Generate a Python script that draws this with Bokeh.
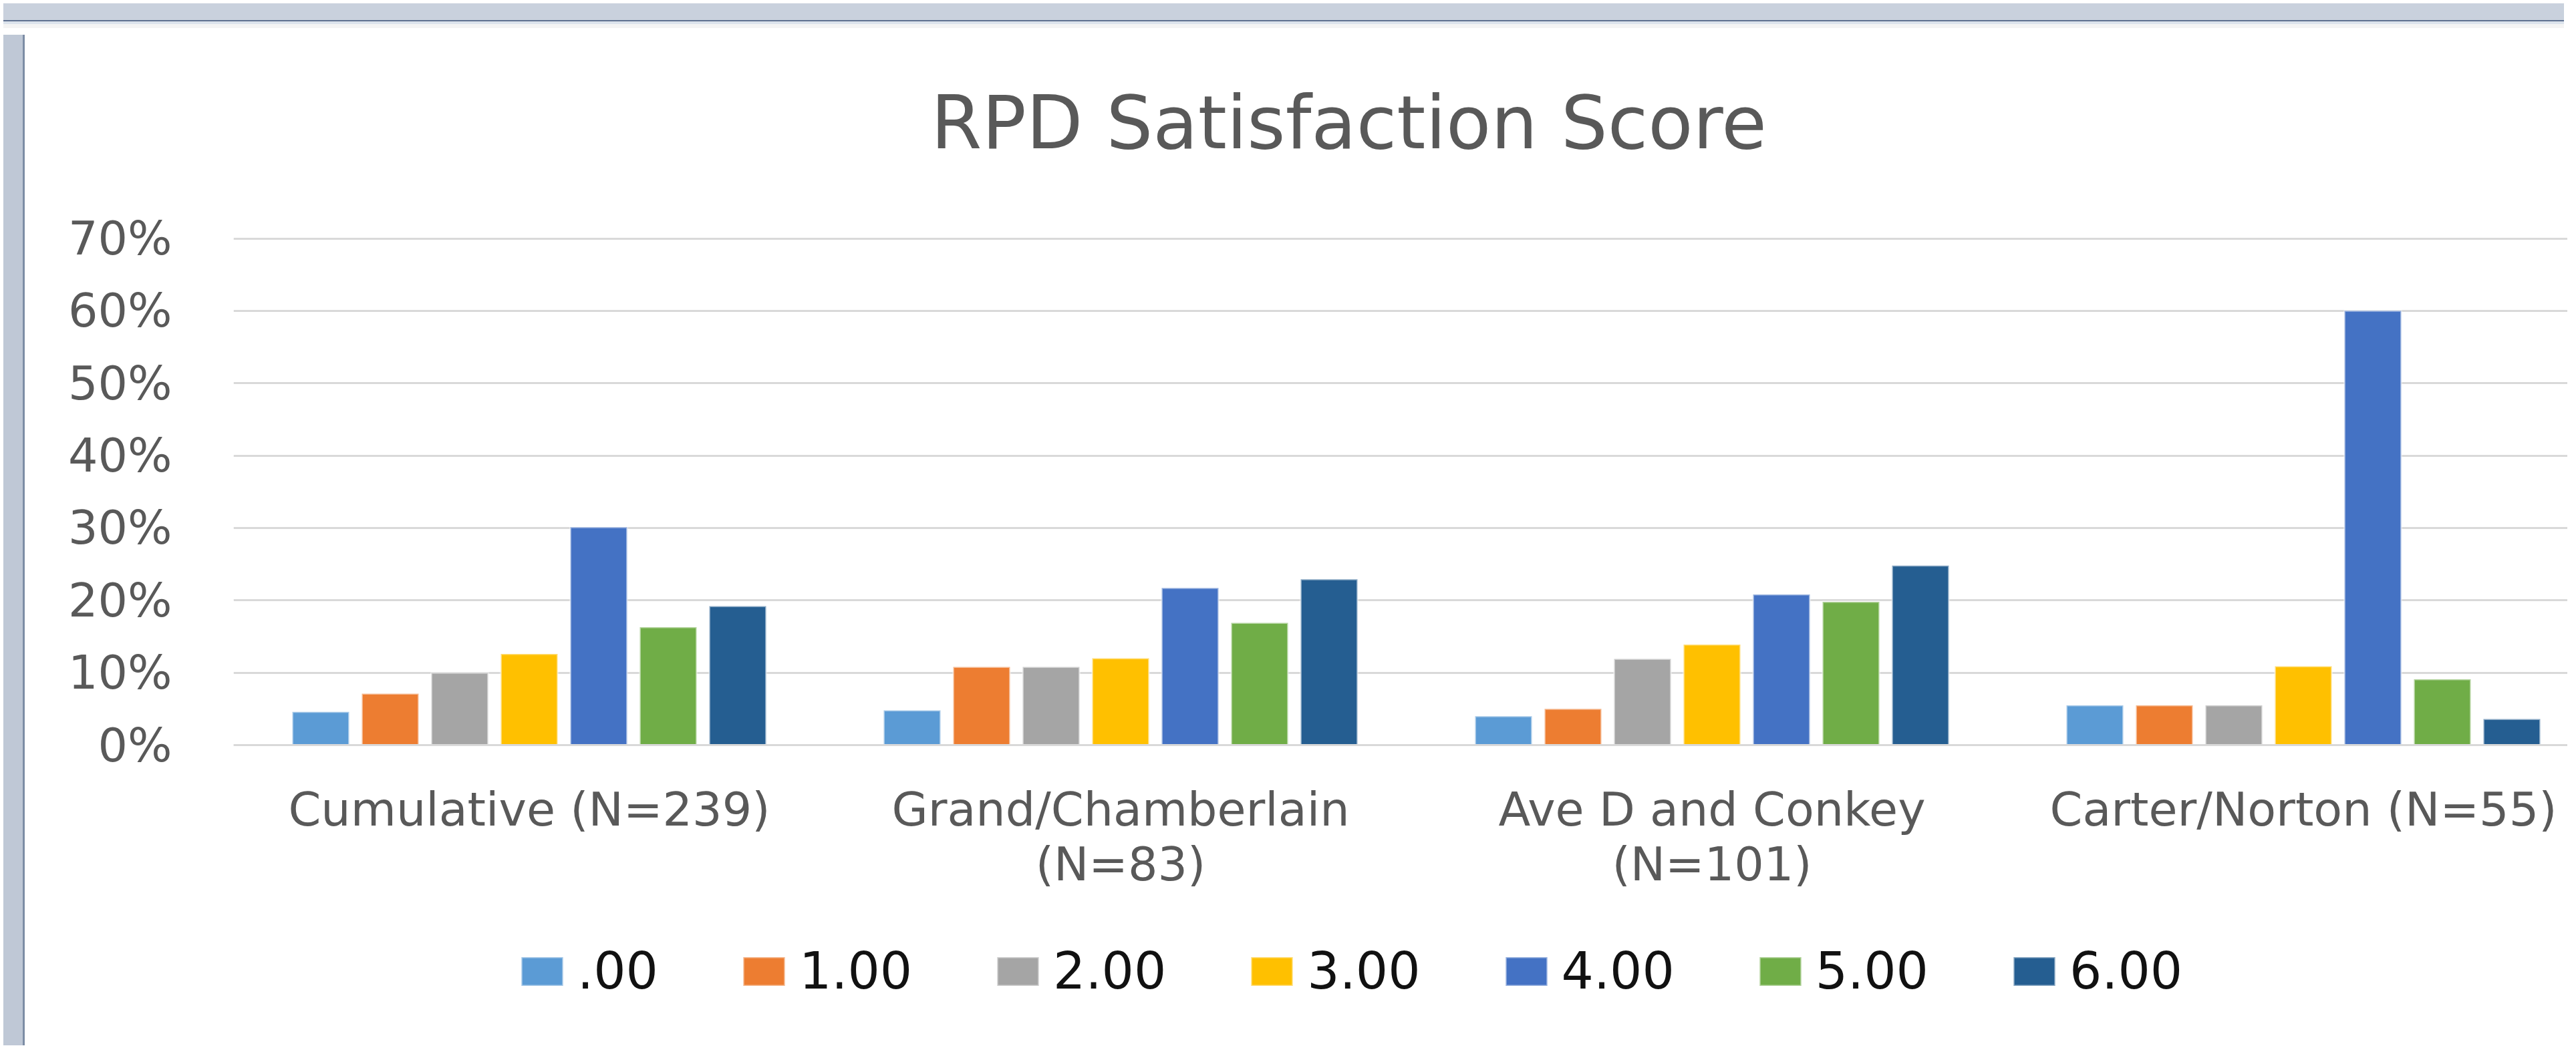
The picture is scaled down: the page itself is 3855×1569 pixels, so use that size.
from bokeh.plotting import figure
from bokeh.models import (ColumnDataSource, Range1d, FixedTicker, NumeralTickFormatter,
                          Legend, LegendItem, Label, Div)
from bokeh.layouts import column, row
from bokeh.transform import dodge
from bokeh.embed import file_html
from bokeh.resources import INLINE

# ---------------- data ----------------
title_text = "RPD Satisfaction Score"
categories = ["Cumulative (N=239)", "Grand/Chamberlain (N=83)",
              "Ave D and Conkey (N=101)", "Carter/Norton (N=55)"]
category_labels = ["Cumulative (N=239)", "Grand/Chamberlain\n(N=83)",
                   "Ave D and Conkey\n(N=101)", "Carter/Norton (N=55)"]
series_names = [".00", "1.00", "2.00", "3.00", "4.00", "5.00", "6.00"]
score_00 = [0.046, 0.048, 0.040, 0.055]
score_10 = [0.071, 0.108, 0.050, 0.055]
score_20 = [0.100, 0.108, 0.119, 0.055]
score_30 = [0.126, 0.120, 0.139, 0.109]
score_40 = [0.301, 0.217, 0.208, 0.600]
score_50 = [0.163, 0.169, 0.198, 0.091]
score_60 = [0.192, 0.229, 0.248, 0.036]
y_ticks = [0.0, 0.1, 0.2, 0.3, 0.4, 0.5, 0.6, 0.7]
colors = ["#5B9BD5", "#ED7D31", "#A5A5A5", "#FFC000", "#4472C4", "#70AD47", "#255E91"]

series = [score_00, score_10, score_20, score_30, score_40, score_50, score_60]

# ---------------- layout constants ----------------
TOTAL_W, TOTAL_H = 3832, 1550
TOP_BAR_H, LEFT_BAR_W = 37, 32
W, H = TOTAL_W - LEFT_BAR_W, TOTAL_H - TOP_BAR_H
FRAME_L = 307
ZERO_Y = 1068          # pixel row of 0%
TOP_LINE_Y = 309.5     # pixel row of the 70% gridline
TITLE_X, TITLE_BASE_Y = 1976, 136
PX_PER_CAT = 885.0
BAR_PITCH = 104.0 / PX_PER_CAT
BAR_W = 85.0 / PX_PER_CAT
FONT = "DejaVu Sans"
y_max = y_ticks[-1]
px_per_y = (ZERO_Y - TOP_LINE_Y) / y_max
y_start = -(H - ZERO_Y) / px_per_y
y_end = ZERO_Y / px_per_y
x_end = -0.5 + (W - FRAME_L) / PX_PER_CAT

data = {"x": list(range(len(categories)))}
for i, s in enumerate(series):
    data[f"s{i}"] = s
src = ColumnDataSource(data)

p = figure(width=W, height=H, output_backend="svg", toolbar_location=None,
           x_range=Range1d(-0.5, x_end), y_range=Range1d(y_start, y_end),
           min_border_left=FRAME_L, min_border_top=0, min_border_right=0,
           min_border_bottom=0)
p.title = None
p.outline_line_color = None
p.background_fill_color = "white"
p.border_fill_color = "white"

# bars
items = []
n = len(series)
for i in range(n):
    r = p.vbar(x=dodge("x", (i - (n - 1) / 2) * BAR_PITCH, range=p.x_range),
               top=f"s{i}", width=BAR_W, bottom=0, source=src,
               fill_color=colors[i], line_color="white", line_alpha=0.45, line_width=3)
    items.append(LegendItem(label=series_names[i], renderers=[r]))

# axes
p.xaxis.fixed_location = 0
p.xaxis.ticker = FixedTicker(ticks=list(range(len(categories))))
p.xaxis.major_label_overrides = {i: lab for i, lab in enumerate(category_labels)}
p.xaxis.major_label_text_font = FONT
p.xaxis.major_label_text_font_size = "70px"
p.xaxis.major_label_text_color = "#595959"
p.xaxis.major_label_text_line_height = 1.0
p.xaxis.major_label_standoff = 55
p.xaxis.major_tick_out = 0
p.xaxis.major_tick_in = 0
p.xaxis.minor_tick_out = 0
p.xaxis.minor_tick_in = 0
p.xaxis.axis_line_color = "#D9D9D9"
p.xaxis.axis_line_width = 3

p.yaxis.ticker = FixedTicker(ticks=y_ticks)
p.yaxis.formatter = NumeralTickFormatter(format="0%")
p.yaxis.major_label_text_font = FONT
p.yaxis.major_label_text_font_size = "70px"
p.yaxis.major_label_text_color = "#595959"
p.yaxis.major_label_standoff = 92
p.yaxis.major_tick_out = 0
p.yaxis.major_tick_in = 0
p.yaxis.minor_tick_out = 0
p.yaxis.minor_tick_in = 0
p.yaxis.axis_line_color = None

p.xgrid.grid_line_color = None
p.ygrid.ticker = FixedTicker(ticks=y_ticks)
p.ygrid.grid_line_color = "#D9D9D9"
p.ygrid.grid_line_width = 3

# legend (below the category labels)
legend = Legend(items=items, orientation="horizontal", location=(423, 62))
legend.label_text_font = FONT
legend.label_text_font_size = "76px"
legend.label_text_color = "#111111"
legend.glyph_width = 78
legend.glyph_height = 54
legend.label_standoff = 14
legend.spacing = 119
legend.padding = 0
legend.margin = 0
legend.border_line_color = None
legend.background_fill_alpha = 0
p.add_layout(legend)

# title
title = Label(x=-0.5 + (TITLE_X - FRAME_L) / PX_PER_CAT,
              y=(ZERO_Y - TITLE_BASE_Y) / px_per_y,
              text=title_text, text_font=FONT, text_font_size="110px",
              text_color="#595959", text_align="center", text_baseline="alphabetic")
p.add_layout(title)

# window chrome of the original screenshot
top_bar = Div(width=TOTAL_W, height=TOP_BAR_H,
              styles={"background": "linear-gradient(#C9D1DD 0px 25px, #5F7190 25px 27px, "
                                    "#DCE3EC 27px 31px, #F4F4F4 31px 37px)"})
left_bar = Div(width=LEFT_BAR_W, height=H,
               styles={"background": "linear-gradient(to right, #BFC8D6 0px 29px, "
                                     "#7D8DA5 29px 32px)"})
layout = column(top_bar, row(left_bar, p, spacing=0), spacing=0)

open("out.html", "w").write(file_html(layout, INLINE))
